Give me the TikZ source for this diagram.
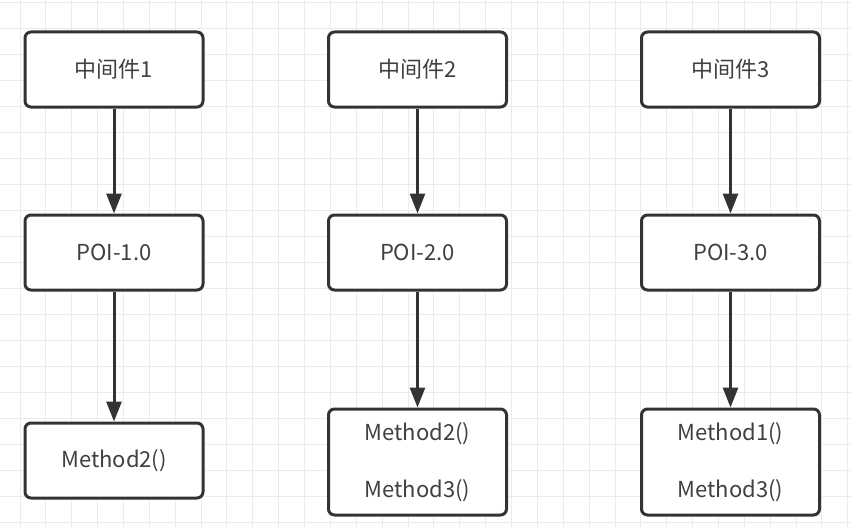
\documentclass[tikz,border=0pt]{standalone}
\usepackage{fontspec}
\setmainfont{Noto Sans CJK SC}
\usetikzlibrary{arrows.meta}
\definecolor{gridc}{HTML}{EBEBEB}
\definecolor{linec}{HTML}{333333}
\definecolor{textc}{HTML}{404040}
\begin{document}
\begin{tikzpicture}[x=1pt,y=-1pt,
  box/.style={draw=linec, line width=3pt, rounded corners=6pt, fill=white,
    minimum width=178pt, minimum height=75pt, text=textc,
    font=\fontsize{22}{28}\selectfont, align=center, inner sep=0pt},
  tallbox/.style={box, minimum height=106pt},
  arr/.style={draw=linec, line width=3pt, -{Triangle[length=20pt,width=15pt]}},
  gridline/.style={draw=gridc, line width=1pt}]
\fill[white] (0,0) rectangle (851,527);
\useasboundingbox (0,0) rectangle (851,527);
\foreach \i in {0,...,32} \draw[gridline] ({20+25.87*\i},0) -- ({20+25.87*\i},527);
\foreach \j in {-1,...,19} \draw[gridline] (0,{28.5+26*\j}) -- (851,{28.5+26*\j});
% column 1
\node[box] (m1) at (114,69.5) {中间件1};
\node[box] (p1) at (114,252.5) {POI-1.0};
\node[box] (f1) at (114,460.5) {Method2()};
% column 2
\node[box] (m2) at (417.5,69.5) {中间件2};
\node[box] (p2) at (417.5,252.5) {POI-2.0};
\node[tallbox] (f2) at (417.5,462) {Method2()\\[29pt]Method3()};
% column 3
\node[box] (m3) at (730.5,69.5) {中间件3};
\node[box] (p3) at (730.5,252.5) {POI-3.0};
\node[tallbox] (f3) at (730.5,462) {Method1()\\[29pt]Method3()};
% arrows
\draw[arr] (m1) -- (p1);
\draw[arr] (p1) -- (f1);
\draw[arr] (m2) -- (p2);
\draw[arr] (p2) -- (f2);
\draw[arr] (m3) -- (p3);
\draw[arr] (p3) -- (f3);
\end{tikzpicture}
\end{document}
